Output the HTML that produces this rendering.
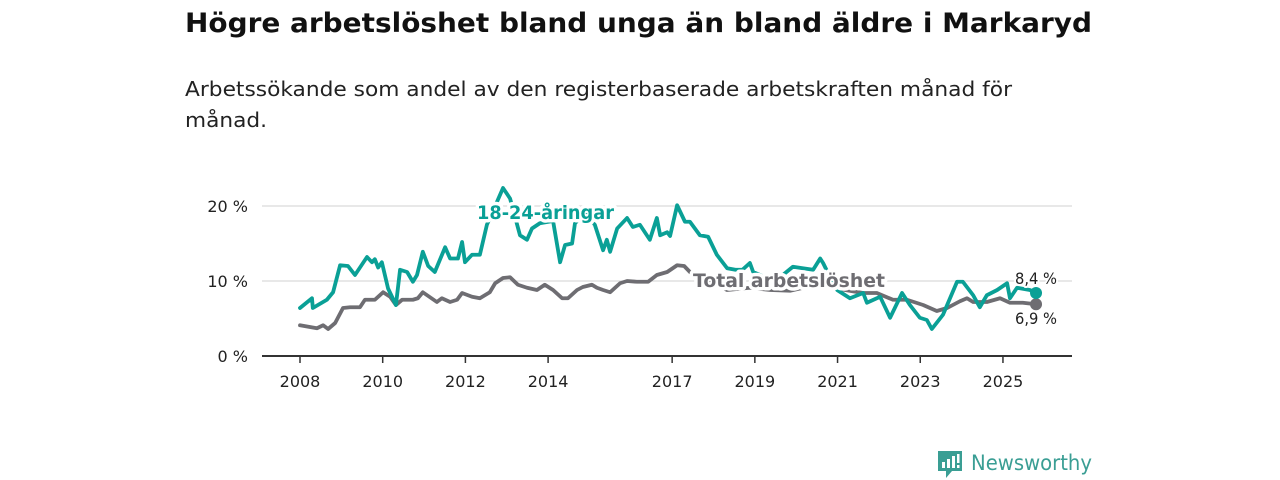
<!DOCTYPE html>
<html><head><meta charset="utf-8"><style>
body{margin:0;background:#fff;width:1280px;height:480px;overflow:hidden;font-family:"DejaVu Sans","Liberation Sans",sans-serif}
</style></head><body>
<svg width="1280" height="480" style="position:absolute;left:0;top:0;font-family:'DejaVu Sans','Liberation Sans',sans-serif">
<text x="185" y="32" font-size="27" font-weight="bold" fill="#111" textLength="907" lengthAdjust="spacingAndGlyphs">Högre arbetslöshet bland unga än bland äldre i Markaryd</text>
<text x="185" y="96" font-size="20" fill="#222" textLength="827" lengthAdjust="spacingAndGlyphs">Arbetssökande som andel av den registerbaserade arbetskraften månad för</text>
<text x="185" y="127" font-size="20" fill="#222" textLength="82" lengthAdjust="spacingAndGlyphs">månad.</text>
<g id="axes"></g>
<g id="series"></g>
<g id="labels"></g>
<g>
<path d="M938 451h24v20h-10l-6 7v-7h-8z" fill="#3a9e94"/>
<rect x="942" y="462" width="3" height="6" fill="#fff"/><rect x="947" y="459" width="3" height="9" fill="#fff"/><rect x="952" y="456" width="3" height="12" fill="#fff"/><rect x="957" y="454" width="2.5" height="9" fill="#fff"/><rect x="957" y="465" width="2.5" height="3" fill="#fff"/>
<text x="971" y="470" font-size="21" fill="#3a9e94" textLength="121" lengthAdjust="spacingAndGlyphs">Newsworthy</text>
</g>
</svg>
<script>
const youthDates=[2008.0,2008.29,2008.31,2008.65,2008.8,2008.97,2009.16,2009.33,2009.62,2009.74,2009.81,2009.89,2009.98,2010.13,2010.32,2010.42,2010.59,2010.73,2010.83,2010.97,2011.1,2011.26,2011.51,2011.63,2011.82,2011.92,2011.99,2012.16,2012.35,2012.52,2012.72,2012.91,2013.08,2013.32,2013.49,2013.61,2013.8,2014.12,2014.29,2014.41,2014.58,2014.65,2014.89,2015.13,2015.33,2015.42,2015.5,2015.67,2015.91,2016.05,2016.22,2016.46,2016.63,2016.71,2016.88,2016.95,2017.12,2017.31,2017.43,2017.67,2017.87,2018.08,2018.33,2018.53,2018.7,2018.88,2018.96,2019.25,2019.61,2019.92,2020.16,2020.41,2020.58,2020.65,2020.82,2020.99,2021.3,2021.62,2021.71,2022.03,2022.27,2022.56,2022.75,2022.99,2023.16,2023.28,2023.55,2023.89,2024.03,2024.28,2024.44,2024.61,2024.86,2025.1,2025.17,2025.34,2025.65,2025.8];
const youthValues=[6.4,7.7,6.4,7.5,8.5,12.1,12,10.8,13.2,12.5,12.9,11.8,12.5,9,6.8,11.5,11.2,9.9,10.8,13.9,12,11.2,14.5,13,13,15.2,12.5,13.5,13.5,17.5,20,22.4,21,16.1,15.5,17,17.7,18,12.5,14.8,15,17.7,19,17.5,14.1,15.5,13.9,17,18.4,17.2,17.5,15.5,18.4,16.1,16.5,16,20.1,17.9,17.9,16.1,15.9,13.5,11.7,11.5,11.5,12.4,11.2,10.5,10.5,11.9,11.7,11.5,13,12.4,10.5,8.8,7.7,8.4,7.1,7.9,5.1,8.4,6.8,5.1,4.8,3.6,5.5,9.9,9.9,8.1,6.5,8.1,8.8,9.7,7.7,9.1,8.8,8.4];
const totalDates=[2008.0,2008.41,2008.56,2008.68,2008.85,2009.04,2009.21,2009.45,2009.57,2009.81,2010.01,2010.18,2010.32,2010.47,2010.73,2010.85,2010.97,2011.31,2011.43,2011.63,2011.8,2011.92,2012.16,2012.35,2012.59,2012.72,2012.91,2013.08,2013.27,2013.49,2013.73,2013.92,2014.12,2014.34,2014.48,2014.7,2014.84,2015.06,2015.18,2015.33,2015.5,2015.74,2015.91,2016.15,2016.42,2016.63,2016.88,2017.12,2017.29,2017.43,2017.67,2017.96,2018.33,2018.88,2019.37,2019.85,2020.33,2020.7,2021.18,2021.62,2021.95,2022.34,2022.68,2023.07,2023.4,2023.65,2023.96,2024.13,2024.28,2024.61,2024.93,2025.17,2025.48,2025.8];
const totalValues=[4.1,3.7,4.1,3.6,4.4,6.4,6.5,6.5,7.5,7.5,8.5,7.9,6.8,7.5,7.5,7.7,8.5,7.2,7.7,7.2,7.5,8.4,7.9,7.7,8.5,9.7,10.4,10.5,9.5,9.1,8.8,9.5,8.8,7.7,7.7,8.8,9.2,9.5,9.1,8.8,8.5,9.7,10,9.9,9.9,10.8,11.2,12.1,12,11.2,10.3,9.8,8.8,9.1,8.8,8.7,9.3,9.5,8.8,8.4,8.4,7.5,7.5,6.8,6.0,6.4,7.3,7.7,7.2,7.2,7.7,7.1,7.1,6.9];
const yTicks=[0,10,20];
const yTickLabels=["0 %","10 %","20 %"];
const xTicks=[2008,2010,2012,2014,2017,2019,2021,2023,2025];
const xTickLabels=["2008","2010","2012","2014","2017","2019","2021","2023","2025"];

const NS="http://www.w3.org/2000/svg";
const X=t=>300+(t-2008)*41.35;
const Y=v=>356-v*7.5;
function mk(tag,attrs,parent,txt){const e=document.createElementNS(NS,tag);for(const k in attrs)e.setAttribute(k,attrs[k]);if(txt!=null)e.textContent=txt;document.getElementById(parent).appendChild(e);return e;}
yTicks.forEach((v,i)=>{
  if(v>0){const g=mk('line',{x1:262,x2:1072,y1:Y(v),y2:Y(v),stroke:'#d9d9d9','stroke-width':1.3},'axes');
  
  }
  const t=mk('text',{x:248,y:Y(v)+6,'text-anchor':'end','font-size':16,fill:'#222'},'axes',yTickLabels[i]);
  
  
});
const ax=mk('line',{x1:262,x2:1072,y1:356,y2:356,stroke:'#333','stroke-width':2},'axes');


xTicks.forEach((t,i)=>{
  const tk=mk('line',{x1:X(t),x2:X(t),y1:356,y2:363,stroke:'#333','stroke-width':1.5},'axes');
  
  
  const l=mk('text',{x:X(t),y:387,'text-anchor':'middle','font-size':16,fill:'#222'},'axes',xTickLabels[i]);
  
  
});
function line(d,v,color,name){
  const p=mk('polyline',{points:d.map((t,i)=>X(t)+','+Y(v[i])).join(' '),fill:'none',stroke:color,'stroke-width':3.8,'stroke-linejoin':'round','stroke-linecap':'round'},'series');
  
  
  const n=d.length-1;
  const c=mk('circle',{cx:X(d[n]),cy:Y(v[n]),r:6,fill:color},'series');
  
  
}
line(totalDates,totalValues,'#6e6d72','line-total');
line(youthDates,youthValues,'#0aa096','line-youth');
function lab(x,y,txt,color,size,bold,name,len){
  const t=mk('text',{x:x,y:y,'font-size':size,'font-weight':bold?'bold':'normal',fill:color,stroke:'#fff','stroke-width':bold?7:4,'paint-order':'stroke','stroke-linejoin':'round',textLength:len,lengthAdjust:'spacingAndGlyphs'},'labels',txt);
  
  
}
lab(477,219,'18-24-åringar','#0aa096',19,true,'label-youth',137);
lab(693,287,'Total arbetslöshet','#6e6d72',19,true,'label-total',192);
lab(1015,284,'8,4 %','#222',16,false,'value-youth-last',42);
lab(1015,324,'6,9 %','#222',16,false,'value-total-last',42);
</script>
</body></html>
